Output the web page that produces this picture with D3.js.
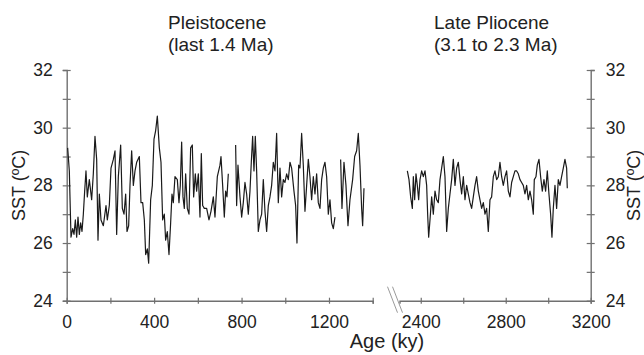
<!DOCTYPE html>
<html><head><meta charset="utf-8">
<script src="https://cdn.jsdelivr.net/npm/d3@7"></script>
<style>
html,body{margin:0;padding:0;background:#fff;}
svg{display:block;font-family:"Liberation Sans",Arial,sans-serif;}
</style></head>
<body>
<svg id="c" width="644" height="355"></svg>
<script>
// ---- data ----
const pleistoceneAge = [4.4,12.0,19.7,27.3,33.4,39.5,45.6,51.7,57.8,63.9,70.0,76.1,82.2,88.2,94.3,103.5,114.2,121.8,129.4,137.1,143.2,149.3,156.9,167.6,179.8,185.9,195.0,202.7,213.4,221.0,228.6,236.2,246.9,254.5,262.2,269.8,275.9,283.5,289.6,297.2,304.9,312.5,320.1,332.3,339.9,347.6,355.2,361.3,368.9,375.0,384.1,391.8,399.4,407.0,414.6,423.8,431.4,439.0,446.6,452.7,460.3,468.0,475.6,481.7,487.8,495.4,506.1,513.7,519.8,525.9,532.0,538.1,544.2,551.8,559.5,567.1,574.7,580.8,588.4,594.5,602.2,609.8,615.9,622.0,629.6,640.3,650.9,660.1,670.8,678.4,689.1,701.3,705.9,713.5,721.1,727.2,733.3,739.4,756,772.9,777.5,783.6,792.8,800.4,808.0,815.6,823.3,830.9,838.5,844.6,850.7,856.8,862.9,869.0,876.6,884.3,891.9,899.5,907.1,914.8,922.4,930.0,937.6,945.3,952.9,960.5,968.1,975.8,983.4,991.0,998.6,1006.3,1013.9,1021.5,1029.1,1039.8,1047.4,1053.5,1061.2,1067.3,1074.9,1082.5,1090.1,1097.8,1105.4,1113.0,1120.6,1128.3,1135.9,1143.5,1151.1,1158.8,1166.4,1174.0,1181.6,1189.3,1196.9,1204.5,1212.1,1219.8,1227.4,1240,1253.3,1259.4,1268.6,1277.7,1286.9,1296.0,1308.2,1317.4,1326.5,1334.1,1341.8,1349.4,1354.0,1360.1];
const pleistoceneSST = [29.3,28.5,26.2,26.5,26.3,26.8,26.2,26.9,26.3,26.7,26.4,27.0,27.8,28.5,27.6,28.2,27.5,28.4,29.7,28.9,26.1,27.7,26.8,26.6,27.3,26.8,27.3,28.6,28.9,29.2,26.3,28.3,29.4,27.2,27.0,27.7,26.4,26.6,28.0,29.2,28.0,28.5,28.8,29.0,27.4,27.4,26.8,25.6,25.8,25.3,27.5,28.0,29.6,29.9,30.4,29.3,28.8,26.8,27.0,26.1,26.4,25.6,26.7,27.7,27.4,28.3,28.2,27.4,28.0,29.5,27.6,27.2,28.4,27.2,27.0,29.3,29.4,27.6,28.4,27.8,28.4,26.9,29.1,27.3,27.2,27.2,26.8,27.1,27.6,26.9,28.3,28.7,29.0,28.0,26.9,27.8,27.6,28.4,null,29.4,27.3,28.7,27.6,26.9,27.4,28.1,27.7,27.0,27.8,28.8,29.7,28.5,29.7,28.5,26.4,26.8,27.0,28.2,27.1,26.4,27.3,27.6,28.0,28.8,28.5,29.8,27.4,28.6,27.6,28.2,28.1,28.4,28.2,28.8,28.6,27.8,27.3,26.0,28.7,28.6,29.8,28.7,27.1,28.0,28.9,28.3,27.5,28.3,27.7,28.4,27.4,27.2,28.2,28.6,28.8,28.3,27.0,27.5,26.7,26.5,26.9,null,28.9,27.2,28.8,28.0,26.6,27.5,28.2,29.0,29.2,29.8,28.7,27.2,26.6,27.9];
const plioceneAge = [2336.9,2344.7,2352.5,2360.4,2365.1,2371.4,2377.6,2383.9,2390.2,2396.5,2404.3,2412.2,2420.0,2427.8,2432.5,2437.3,2443.5,2451.4,2459.2,2467.1,2474.9,2482.7,2490.6,2498.4,2506.3,2514.1,2522.0,2529.8,2537.6,2545.5,2553.3,2561.2,2569.0,2576.9,2584.7,2592.5,2600.4,2608.2,2616.1,2623.9,2631.8,2639.6,2647.5,2655.3,2663.1,2671.0,2678.8,2686.7,2694.5,2702.4,2710.2,2718.0,2725.9,2733.7,2741.6,2749.4,2757.3,2765.1,2772.9,2780.8,2788.6,2796.5,2804.3,2812.2,2820.0,2827.8,2835.7,2843.5,2851.4,2859.2,2867.1,2874.9,2882.7,2890.6,2898.4,2906.3,2914.1,2922.0,2929.8,2934.5,2942.4,2948.6,2956.5,2964.3,2972.2,2980.0,2987.8,2995.7,3003.5,3011.4,3017.6,3023.9,3031.8,3039.6,3047.5,3055.3,3063.1,3071.0,3078.8,3086.7,3089.8];
const plioceneSST = [28.5,28.2,27.6,27.2,28.3,27.5,28.4,28.0,27.5,28.2,28.5,28.3,28.5,28.0,27.0,26.2,26.8,27.6,27.0,27.8,27.5,27.4,28.2,28.6,29.0,28.3,26.4,27.2,27.7,28.2,28.9,28.0,28.6,28.8,28.2,27.7,28.3,27.5,28.0,27.7,27.4,27.2,27.6,28.0,28.3,27.8,27.5,27.2,27.4,27.0,27.2,26.4,27.5,27.6,28.3,28.5,28.2,28.3,28.8,28.3,28.0,28.3,28.5,27.8,27.6,28.1,28.3,28.5,28.5,28.4,28.2,28.1,28.0,27.7,28.0,27.5,27.8,27.5,27.0,28.2,28.3,28.7,28.9,28.3,27.8,28.2,27.8,28.5,27.7,27.0,26.2,27.2,28.0,27.2,28.2,28.0,28.3,28.6,28.9,28.6,27.9];
const leftTicks = [0,200,400,600,800,1000,1200,1400];
const rightTicks = [2400,2600,2800,3000,3200];
const yTicks = [24,25,26,27,28,29,30,31,32];
const titles = [["Pleistocene","(last 1.4 Ma)"],["Late Pliocene","(3.1 to 2.3 Ma)"]];
const yTitle = "SST (\u00BAC)";
const xTitle = "Age (ky)";

// ---- layout ----
const svg = d3.select("#c");
const axisColor = "#707070", textColor = "#222";
const y = d3.scaleLinear().domain([24,32]).range([300.7,70]);
const xL = d3.scaleLinear().domain([0,1400]).range([66.7,372.7]);
const xR = d3.scaleLinear().domain([2300,3200]).range([399.5,590.7]);
const fs = 17.5;

function styleAxis(g){
  g.select(".domain").attr("stroke",axisColor).attr("stroke-width",1.4);
  g.selectAll(".tick line").attr("stroke",axisColor).attr("stroke-width",1.2);
  g.selectAll(".tick text").attr("fill",textColor).style("font-size",fs+"px");
}
const lab400 = d => (d % 400 === 0 ? d : "");
// bottom axes
const gxl = svg.append("g").attr("transform",`translate(0,${y(24)})`)
  .call(d3.axisBottom(xL).tickValues(leftTicks).tickFormat(lab400).tickSizeOuter(0).tickSize(3).tickPadding(12));
const gxr = svg.append("g").attr("transform",`translate(0,${y(24)})`)
  .call(d3.axisBottom(xR).tickValues(rightTicks).tickFormat(lab400).tickSizeOuter(0).tickSize(3).tickPadding(12));
[gxl,gxr].forEach(g=>{ styleAxis(g); g.selectAll(".tick line").attr("y1",-3).attr("y2",3); });

const labEven = d => (d % 2 === 0 ? d : "");
const gyl = svg.append("g").attr("transform",`translate(${xL(0)},0)`)
  .call(d3.axisLeft(y).tickValues(yTicks).tickFormat(labEven).tickSizeOuter(0).tickSize(4).tickPadding(10));
const gyr = svg.append("g").attr("transform",`translate(${xR(3200)},0)`)
  .call(d3.axisRight(y).tickValues(yTicks).tickFormat(labEven).tickSizeOuter(0).tickSize(4).tickPadding(11));
[gyl,gyr].forEach(g=>{ styleAxis(g); g.selectAll(".tick line").attr("x1",-4).attr("x2",4); });

// axis break marks
const bx = xR(2300)-11, by = y(24);
[0,5].forEach(o=>{
  svg.append("line").attr("x1",bx-1+o).attr("y1",by-14).attr("x2",bx+9+o).attr("y2",by+12)
    .attr("stroke","#9a9a9a").attr("stroke-width",1);
});

// series
const lineL = d3.line().defined(d=>d[1]!=null).x(d=>xL(d[0])).y(d=>y(d[1]));
const lineR = d3.line().defined(d=>d[1]!=null).x(d=>xR(d[0])).y(d=>y(d[1]));
svg.append("path").datum(d3.zip(pleistoceneAge,pleistoceneSST)).attr("d",lineL)
  .attr("fill","none").attr("stroke","#1a1a1a").attr("stroke-width",1.2).attr("stroke-linejoin","round");
svg.append("path").datum(d3.zip(plioceneAge,plioceneSST)).attr("d",lineR)
  .attr("fill","none").attr("stroke","#1a1a1a").attr("stroke-width",1.2).attr("stroke-linejoin","round");

// titles
const tx = [168, 434];
titles.forEach((t,i)=>{
  t.forEach((s,j)=>{
    svg.append("text").attr("x",tx[i]).attr("y",29+j*22).text(s)
      .attr("fill",textColor).style("font-size","19px");
  });
});
// axis titles
svg.append("text").attr("transform",`translate(25,${(y(24)+y(32))/2}) rotate(-90)`)
  .attr("text-anchor","middle").text(yTitle).attr("fill",textColor).style("font-size","18px");
svg.append("text").attr("transform",`translate(640,${(y(24)+y(32))/2}) rotate(-90)`)
  .attr("text-anchor","middle").text(yTitle).attr("fill",textColor).style("font-size","18px");
svg.append("text").attr("x",387).attr("y",348).attr("text-anchor","middle").text(xTitle)
  .attr("fill",textColor).style("font-size","20px");
</script>
</body></html>
